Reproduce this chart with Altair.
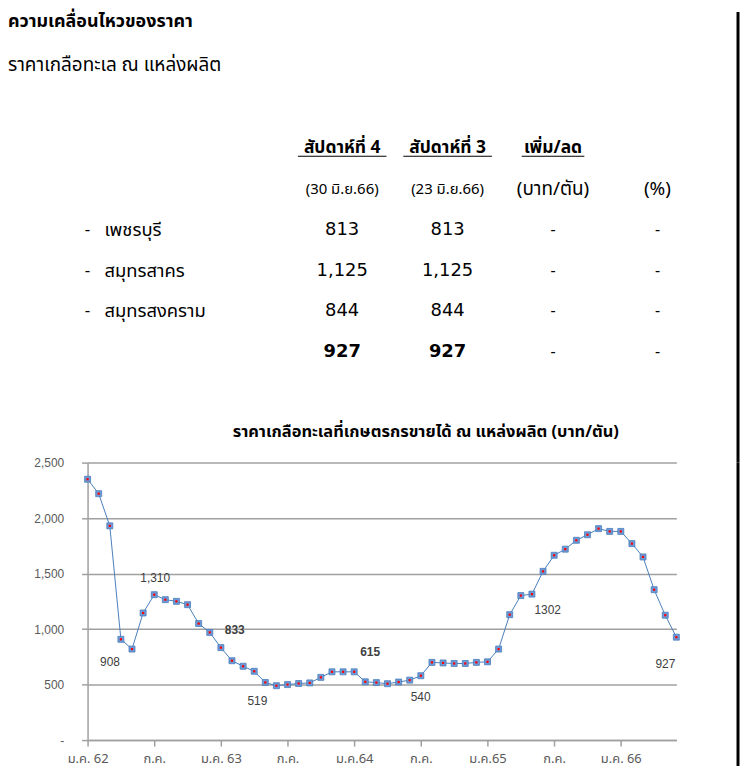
import altair as alt
import pandas as pd

# ---------------- data ----------------
title_text = "ความเคลื่อนไหวของราคา"
subtitle_text = "ราคาเกลือทะเล ณ แหล่งผลิต"
header_cols = ["สัปดาห์ที่ 4", "สัปดาห์ที่ 3", "เพิ่ม/ลด"]
date_cols = ["(30 มิ.ย.66)", "(23 มิ.ย.66)"]
unit_cols = ["(บาท/ตัน)", "(%)"]
regions = ["เพชรบุรี", "สมุทรสาคร", "สมุทรสงคราม"]
week4 = [813, 1125, 844, 927]
week3 = [813, 1125, 844, 927]
change_baht = ["-", "-", "-", "-"]
change_pct = ["-", "-", "-", "-"]
chart_title = "ราคาเกลือทะเลที่เกษตรกรขายได้ ณ แหล่งผลิต (บาท/ตัน)"

prices = [2350, 2220, 1930, 908, 820, 1145, 1310, 1265, 1250, 1220,
          1050, 970, 833, 715, 665, 620, 519, 490, 500, 510,
          515, 565, 615, 615, 615, 525, 518, 508, 523, 540,
          580, 700, 695, 690, 690, 700, 705, 820, 1130, 1302,
          1315, 1520, 1665, 1720, 1800, 1850, 1905, 1880, 1880, 1770,
          1650, 1355, 1125, 927]
month_tick_labels = ["ม.ค. 62", "ก.ค.", "ม.ค. 63", "ก.ค.", "ม.ค.64",
                     "ก.ค.", "ม.ค.65", "ก.ค.", "ม.ค. 66"]
label_points = [3, 6, 12, 16, 24, 29, 39, 53]
label_texts = ["908", "1,310", "833", "519", "615", "540", "1302", "927"]
label_bold = [False, False, True, False, True, False, False, False]

# ---------------- layout helpers ----------------
FONT = "Tahoma, 'Noto Sans Thai', 'Noto Sans', sans-serif"
NUMFONT = "'DejaVu Sans', 'Noto Sans', sans-serif"
PW, PH = 592, 279           # plot area of the line chart
TOP_H = 453                 # height of the text panel above it

# column slots: title-left, dash, name, wk4, chart-title, wk3, chg, pct
xs = alt.Scale(domain=[0, 1, 2, 3, 4, 5, 6, 7],
               range=[-80, 0, 17, 256, 340, 362, 468, 573], nice=False, zero=False)
# row slots: title, subtitle, header, sub-header, 4 data rows, chart title
ys = alt.Scale(domain=[0, 1, 2, 3, 4, 5, 6, 7, 8],
               range=[10, 53, 137, 178, 219, 260, 301, 342, 422], nice=False, zero=False)


def fmt(v):
    return f"{v:,}"


def tlayer(rows, font=FONT, **kw):
    df = pd.DataFrame(rows, columns=["row", "col", "text"])
    return alt.Chart(df).mark_text(font=font, color="black", **kw).encode(
        x=alt.X("col:Q", scale=xs, axis=None),
        y=alt.Y("row:Q", scale=ys, axis=None),
        text="text:N",
    )


top_layers = [
    tlayer([(0, 0, title_text)], align="left", fontSize=18, fontWeight="bold"),
    tlayer([(1, 0, subtitle_text)], align="left", fontSize=19),
    tlayer([(2, 3, header_cols[0]), (2, 5, header_cols[1]), (2, 6, header_cols[2])],
           align="center", fontSize=17.5, fontWeight="bold"),
    tlayer([(3, 3, date_cols[0]), (3, 5, date_cols[1])], align="center", fontSize=15),
    tlayer([(3, 6, unit_cols[0]), (3, 7, unit_cols[1])], align="center", fontSize=19),
    tlayer([(4 + k, 1, "-") for k in range(3)], align="center", fontSize=17),
    tlayer([(4 + k, 2, r) for k, r in enumerate(regions)], align="left", fontSize=18.5),
    tlayer([(4 + k, 3, fmt(week4[k])) for k in range(3)]
           + [(4 + k, 5, fmt(week3[k])) for k in range(3)],
           font=NUMFONT, align="center", fontSize=18),
    tlayer([(7, 3, fmt(week4[3])), (7, 5, fmt(week3[3]))],
           font=NUMFONT, align="center", fontSize=18, fontWeight="bold"),
    tlayer([(4 + k, 6, change_baht[k]) for k in range(4)]
           + [(4 + k, 7, change_pct[k]) for k in range(4)], align="center", fontSize=16),
    tlayer([(8, 4, chart_title)], align="center", fontSize=16.5, fontWeight="bold"),
]

ul = pd.DataFrame({"row": [2, 2, 2], "col": [3, 5, 6], "w": [89, 89, 63]})
underline = alt.Chart(ul).mark_tick(orient="horizontal", thickness=1.2, color="black",
                                    yOffset=8, opacity=1).encode(
    x=alt.X("col:Q", scale=xs, axis=None),
    y=alt.Y("row:Q", scale=ys, axis=None),
    size=alt.Size("w:Q", scale=None, legend=None),
)
border_top = alt.Chart(pd.DataFrame({"a": [0]})).mark_rule(color="black", strokeWidth=3).encode(
    x=alt.value(654), y=alt.value(0), y2=alt.value(TOP_H))

top = alt.layer(*top_layers, underline, border_top).properties(width=PW, height=TOP_H)

# ---------------- line chart ----------------
dfp = pd.DataFrame({"i": list(range(len(prices))), "price": prices})
label_expr = "[" + ",".join(f"'{s}'" for s in month_tick_labels) + "][round(datum.value/6)]"

x_enc = alt.X("i:Q", scale=alt.Scale(domain=[0, len(prices) - 1], nice=False, zero=False),
              axis=alt.Axis(values=list(range(0, 49, 6)), labelExpr=label_expr, grid=False,
                            domainColor="#a0a0a0", domainWidth=1.5, tickColor="#a0a0a0",
                            tickWidth=1.5, tickSize=6, labelPadding=7, labelFont=FONT,
                            labelFontSize=13, labelColor="#595959", labelFlush=False,
                            title=None))
y_enc = alt.Y("price:Q", scale=alt.Scale(domain=[0, 2500], nice=False),
              axis=alt.Axis(values=[0, 500, 1000, 1500, 2000, 2500],
                            labelExpr="datum.value == 0 ? '-' : format(datum.value, ',')",
                            grid=True, gridColor="#a0a0a0", gridWidth=1.5,
                            domainColor="#a0a0a0", domainWidth=1.5, tickColor="#a0a0a0",
                            tickWidth=1.5, tickSize=6, labelPadding=18,
                            labelFont="'Liberation Sans', Arial, sans-serif",
                            labelFontSize=12, labelColor="#595959", title=None))

base = alt.Chart(dfp).encode(x=x_enc, y=y_enc)
line = base.mark_line(color="#4a7ebb", strokeWidth=1)
pts = base.mark_point(shape="square", filled=True, size=36, color="#6c9ad8",
                      stroke="#4a7ebb", strokeWidth=0.8, opacity=1)
red = base.mark_point(shape="square", filled=True, size=5, color="#ff0000", opacity=1)

offsets = [(-11, 23), (1, -17), (14, -18), (-8, 19), (16, -20), (11, 17), (27, 15), (-11, 27)]
lbl_layers = []
for idx, txt, bold, (dx, dy) in zip(label_points, label_texts, label_bold, offsets):
    lbl_layers.append(
        base.mark_text(dx=dx, dy=dy, fontSize=12, font="Tahoma, 'Liberation Sans', sans-serif",
                       color="#404040", fontWeight="bold" if bold else "normal")
        .encode(text=alt.value(txt))
        .transform_filter(alt.datum.i == idx)
    )

border_bot = alt.Chart(pd.DataFrame({"a": [0]})).mark_rule(color="black", strokeWidth=3).encode(
    x=alt.value(654), y=alt.value(0), y2=alt.value(305))

bottom = alt.layer(line, pts, red, *lbl_layers, border_bot).properties(width=PW, height=PH)

chart = alt.vconcat(top, bottom, spacing=0, bounds="flush").properties(
    padding=0
).configure_view(strokeWidth=0)

chart.save("out.html", embed_options={"renderer": "svg", "actions": False})
